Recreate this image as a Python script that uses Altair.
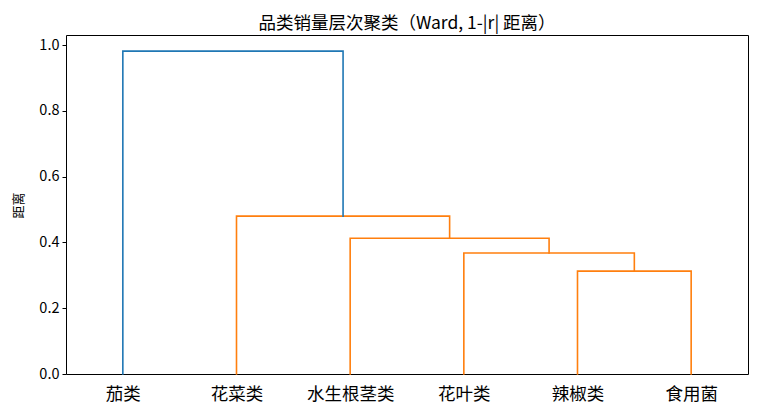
import altair as alt
import pandas as pd

# Leaf order (left to right) and linkage (scipy-style: child ids, merge height)
leaves = ["茄类", "花菜类", "水生根茎类", "花叶类", "辣椒类", "食用菌"]
merge_left = [4, 3, 2, 1, 0]
merge_right = [5, 6, 7, 8, 9]
merge_height = [0.313, 0.368, 0.413, 0.480, 0.982]
merge_group = ["C1", "C1", "C1", "C1", "C0"]

title_text = "品类销量层次聚类（Ward, 1-|r| 距离）"
y_title = "距离"
y_ticks = [0.0, 0.2, 0.4, 0.6, 0.8, 1.0]

FONT = "Noto Sans CJK SC"

# positions of leaves/clusters (scipy dendrogram convention)
n = len(leaves)
pos_x = {i: 5 + 10 * i for i in range(n)}
pos_h = {i: 0.0 for i in range(n)}
rows = []
for k, (a, b, h, g) in enumerate(zip(merge_left, merge_right, merge_height, merge_group)):
    xa, xb = pos_x[a], pos_x[b]
    ha, hb = pos_h[a], pos_h[b]
    pts = [(xa, ha), (xa, h), (xb, h), (xb, hb)]
    for j, (px, py) in enumerate(pts):
        rows.append({"link": k, "order": j, "x": px, "y": py, "grp": g})
    pos_x[n + k] = (xa + xb) / 2
    pos_h[n + k] = h

df = pd.DataFrame(rows)

tick_vals = [5 + 10 * i for i in range(n)]
label_expr = "[" + ",".join("'%s'" % s for s in leaves) + "][round((datum.value-5)/10)]"

chart = alt.Chart(df).mark_line(strokeWidth=1.6, strokeJoin="miter", strokeCap="square").encode(
    x=alt.X("x:Q", scale=alt.Scale(domain=[0, 60], nice=False, zero=False),
            axis=alt.Axis(values=tick_vals, labelExpr=label_expr, title=None, grid=False,
                          ticks=False, domain=False, labelFontSize=17.5, labelFont=FONT,
                          labelColor="black", labelPadding=11, labelAngle=0)),
    y=alt.Y("y:Q", scale=alt.Scale(domain=[0, 1.031], nice=False, zero=False),
            axis=alt.Axis(values=y_ticks, format=".1f", title=y_title, grid=False,
                          domain=False, tickSize=4, tickColor="black", tickWidth=1,
                          labelFontSize=14.5, labelFont=FONT, labelColor="black", labelPadding=3,
                          titleFont=FONT, titleFontSize=13, titleFontWeight="normal",
                          titleColor="black", titleAngle=-90, titleX=-48, titleY=170,
                          titleAlign="center", titleBaseline="middle")),
    color=alt.Color("grp:N", scale=alt.Scale(domain=["C0", "C1"], range=["#1f77b4", "#ff7f0e"]),
                    legend=None),
    detail="link:N",
    order="order:Q",
).properties(
    width=682,
    height=339,
    title=alt.TitleParams(title_text, font=FONT, fontSize=17.5, fontWeight="normal",
                          color="black", offset=3),
    autosize=alt.AutoSizeParams(type="none"),
    padding={"left": 58, "top": 27, "right": 3, "bottom": 30},
).configure_view(stroke="black", strokeWidth=1)

chart.save("out.html", embed_options={"renderer": "svg", "actions": False})
